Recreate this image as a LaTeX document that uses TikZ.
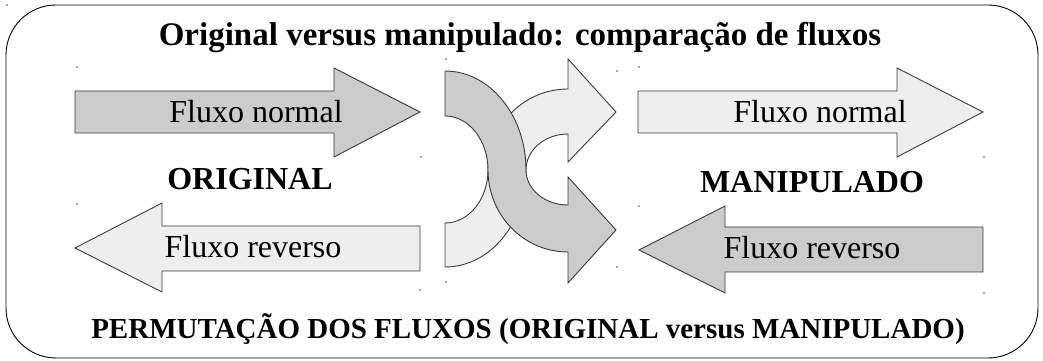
\documentclass[tikz,border=0pt]{standalone}
\usepackage{fontspec}
\setmainfont{Liberation Serif}
\definecolor{darkfill}{HTML}{CCCCCC}
\definecolor{lightfill}{HTML}{EEEEEE}
\definecolor{edge}{HTML}{3A3A3A}
\begin{document}
\begin{tikzpicture}[x=1pt,y=1pt,
  shapeline/.style={draw=edge,line width=0.9pt,line join=miter},
  darkarrow/.style={shapeline,fill=darkfill},
  lightarrow/.style={shapeline,fill=lightfill},
  lbl/.style={inner sep=0pt,anchor=base,font=\fontsize{32}{36}\selectfont},
  bold/.style={lbl,font=\fontsize{32}{36}\selectfont\bfseries},
  dotmark/.style={fill=black!70,draw=none}]
\useasboundingbox (0,0) rectangle (1043,361);
% outer frame
\draw[line width=0.9pt,rounded corners=50pt] (6,3) rectangle (1038,356);
% title
\node[lbl,font=\fontsize{33}{38}\selectfont\bfseries] (title) at (520,315) {Original versus manipulado: comparação de fluxos};
% left arrows
\draw[darkarrow] (75,270) -- (334,270) -- (334,293) -- (420,249) -- (334,204) -- (334,228) -- (75,228) -- cycle;
\draw[lightarrow] (75,113) -- (162,158) -- (162,135) -- (420,135) -- (420,90) -- (162,90) -- (162,69) -- cycle;
% right arrows
\draw[lightarrow] (638,270) -- (897,270) -- (897,293) -- (983,249) -- (897,204) -- (897,228) -- (638,228) -- cycle;
\draw[darkarrow] (639,111) -- (725,155) -- (725,134) -- (983,134) -- (983,89) -- (725,89) -- (725,68) -- cycle;
% central crossing arrows (light one behind)
\draw[lightarrow] (445,94)
  arc[start angle=270,end angle=360,x radius=81,y radius=97]
  arc[start angle=180,end angle=90,x radius=42,y radius=36]
  -- (568,199) -- (616,249) -- (568,302) -- (568,272)
  arc[start angle=90,end angle=180,x radius=80,y radius=81]
  arc[start angle=0,end angle=-90,x radius=43,y radius=53]
  -- cycle;
\draw[darkarrow] (445,290)
  arc[start angle=90,end angle=0,x radius=81,y radius=99]
  arc[start angle=180,end angle=270,x radius=42,y radius=35]
  -- (568,184) -- (616,131) -- (568,78) -- (568,109)
  arc[start angle=270,end angle=180,x radius=80,y radius=82]
  arc[start angle=0,end angle=90,x radius=43,y radius=54]
  -- cycle;
% labels
\node[lbl] (lnormal) at (256,238) {Fluxo normal};
\node[bold] (orig) at (250,171) {ORIGINAL};
\node[lbl] (lrev) at (253,103) {Fluxo reverso};
\node[lbl] (rnormal) at (820,238) {Fluxo normal};
\node[bold] (manip) at (812,168) {MANIPULADO};
\node[lbl] (rrev) at (812,102) {Fluxo reverso};
\node[lbl,font=\fontsize{29}{34}\selectfont\bfseries] (perm) at (528,22) {PERMUTAÇÃO DOS FLUXOS (ORIGINAL versus MANIPULADO)};
% small handle dots
\foreach \p in {(77,294),(421,204),(77,157),(420,71),(639,294),(984,204),(639,155),(984,68),(446,302),(617,290),(617,94),(446,79),(7,356)}
  \fill[dotmark] \p circle[radius=0.8];
\end{tikzpicture}
\end{document}
